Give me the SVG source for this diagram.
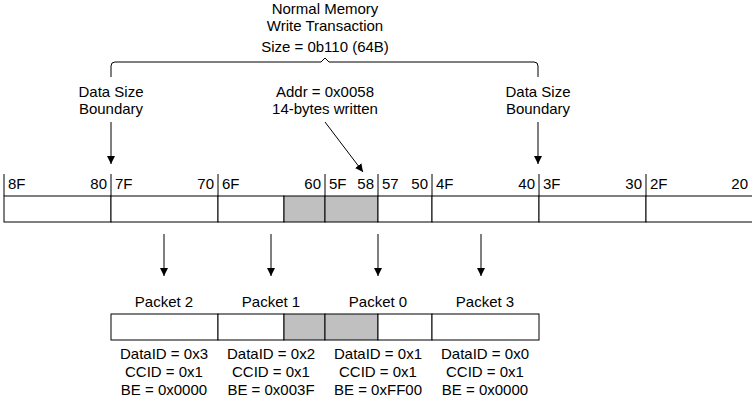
<svg xmlns="http://www.w3.org/2000/svg" width="752" height="400" viewBox="0 0 752 400">
<defs>
<marker id="ah" viewBox="0 0 10 10" refX="10" refY="5" markerWidth="8" markerHeight="8" markerUnits="userSpaceOnUse" orient="auto"><path d="M0,0 L10,5 L0,10 Z" fill="#000"/></marker>
</defs>
<style>
text{font-family:"Liberation Sans",Arial,sans-serif;font-size:15px;fill:#000}
.c{text-anchor:middle}
.r{text-anchor:end}
.cell{fill:#fff;stroke:#000;stroke-width:1}
.sh{fill:#c0c0c0;stroke:#000;stroke-width:1}
.ln{stroke:#000;stroke-width:1;fill:none}
.ar{stroke:#000;stroke-width:1;fill:none;marker-end:url(#ah)}
</style>
<rect width="752" height="400" fill="#fff"/>
<g id="title">
<text class="c" x="325" y="14">Normal Memory</text>
<text class="c" x="325" y="31">Write Transaction</text>
<text class="c" x="325" y="52">Size = 0b110 (64B)</text>
</g>
<g id="brace"><path class="ln" d="M111,77 L111,66 Q111,62 115,62 L321,62 L325,58 L329,62 L534,62 Q538,62 538,66 L538,77"/></g>
<g id="label-boundary-left">
<text class="c" x="111" y="97">Data Size</text>
<text class="c" x="111" y="114">Boundary</text>
</g>
<g id="label-addr">
<text class="c" x="325" y="97">Addr = 0x0058</text>
<text class="c" x="325" y="114">14-bytes written</text>
</g>
<g id="label-boundary-right">
<text class="c" x="538" y="97">Data Size</text>
<text class="c" x="538" y="114">Boundary</text>
</g>
<g id="memory-row">
<rect class="cell" x="4" y="196" width="107" height="26"/>
<rect class="cell" x="111" y="196" width="107" height="26"/>
<rect class="cell" x="218" y="196" width="66" height="26"/>
<rect class="sh" x="284" y="196" width="41" height="26"/>
<rect class="sh" x="325" y="196" width="53" height="26"/>
<rect class="cell" x="378" y="196" width="54" height="26"/>
<rect class="cell" x="432" y="196" width="107" height="26"/>
<rect class="cell" x="539" y="196" width="107" height="26"/>
<rect class="cell" x="646" y="196" width="110" height="26"/>
<path class="ln" d="M4,174V196M111,174V196M218,174V196M325,174V196M378,174V196M432,174V196M539,174V196M646,174V196"/>
<text x="8" y="189">8F</text><text class="r" x="107" y="189">80</text>
<text x="115" y="189">7F</text><text class="r" x="214" y="189">70</text>
<text x="222" y="189">6F</text><text class="r" x="321" y="189">60</text>
<text x="329" y="189">5F</text><text class="r" x="374" y="189">58</text>
<text x="382" y="189">57</text><text class="r" x="428" y="189">50</text>
<text x="436" y="189">4F</text><text class="r" x="535" y="189">40</text>
<text x="543" y="189">3F</text><text class="r" x="642" y="189">30</text>
<text x="650" y="189">2F</text><text class="r" x="748" y="189">20</text>
</g>
<g id="packet-row">
<rect class="cell" x="111" y="314" width="107" height="26"/>
<rect class="cell" x="218" y="314" width="66" height="26"/>
<rect class="sh" x="284" y="314" width="41" height="26"/>
<rect class="sh" x="325" y="314" width="53" height="26"/>
<rect class="cell" x="378" y="314" width="54" height="26"/>
<rect class="cell" x="432" y="314" width="107" height="26"/>
</g>
<g id="packet2">
<text class="c" x="164" y="307">Packet 2</text>
<text class="c" x="164" y="359">DataID = 0x3</text>
<text class="c" x="164" y="377">CCID = 0x1</text>
<text class="c" x="164" y="395">BE = 0x0000</text>
</g>
<g id="packet1">
<text class="c" x="271" y="307">Packet 1</text>
<text class="c" x="271" y="359">DataID = 0x2</text>
<text class="c" x="271" y="377">CCID = 0x1</text>
<text class="c" x="271" y="395">BE = 0x003F</text>
</g>
<g id="packet0">
<text class="c" x="378" y="307">Packet 0</text>
<text class="c" x="378" y="359">DataID = 0x1</text>
<text class="c" x="378" y="377">CCID = 0x1</text>
<text class="c" x="378" y="395">BE = 0xFF00</text>
</g>
<g id="packet3">
<text class="c" x="485" y="307">Packet 3</text>
<text class="c" x="485" y="359">DataID = 0x0</text>
<text class="c" x="485" y="377">CCID = 0x1</text>
<text class="c" x="485" y="395">BE = 0x0000</text>
</g>
<g id="connectors">
<path class="ar" d="M111,122V164"/>
<path class="ar" d="M538,122V164"/>
<path class="ar" d="M325,122L363,172"/>
<path class="ar" d="M164,234V276"/>
<path class="ar" d="M271,234V276"/>
<path class="ar" d="M378,234V276"/>
<path class="ar" d="M481,234V276"/>
</g>
</svg>
